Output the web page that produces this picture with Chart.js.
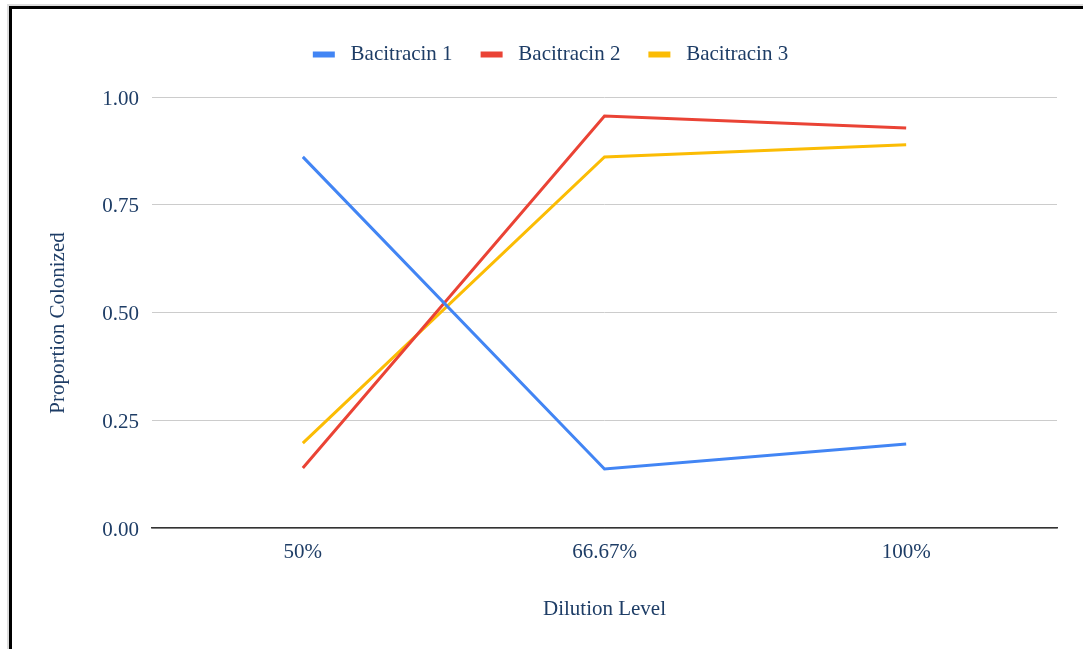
<!DOCTYPE html>
<html lang="en">
  <head>
    <meta charset="UTF-8" />
    <title>Proportion Colonized</title>
    <script src="https://cdn.jsdelivr.net/npm/chart.js@4"></script>
    <style>
      body { margin: 0; background: #fff; }
      .wrap { position: absolute; left: 0; top: 0; width: 1083px; height: 649px; }
      .frame {
        position: absolute; left: 9px; top: 6px; right: -10px; bottom: -10px;
        border-left: 3px solid #000; border-top: 3px solid #000;
        pointer-events: none;
      }
      .frame-shadow {
        position: absolute; left: 7px; top: 4px; right: -10px; bottom: -10px;
        border-left: 2px solid #ddd; border-top: 2px solid #ddd;
      }
    </style>
  </head>
  <body>
    <div class="wrap">
      <canvas id="myChart" width="1083" height="649"></canvas>
      <div class="frame-shadow"></div>
      <div class="frame"></div>
    </div>
    <script>
      let categories = ["50%", "66.67%", "100%"];
      let bacitracin1 = [0.861, 0.137, 0.195];
      let bacitracin2 = [0.139, 0.956, 0.928];
      let bacitracin3 = [0.197, 0.861, 0.889];
      let yTicks = [0, 0.25, 0.5, 0.75, 1];

      let textColor = "#1e3d66";
      let serif = "'Liberation Serif', 'DejaVu Serif', serif";

      let data = {
        labels: categories,
        datasets: [
          { label: "Bacitracin 1", data: bacitracin1, borderColor: "#4285f4", backgroundColor: "#4285f4" },
          { label: "Bacitracin 2", data: bacitracin2, borderColor: "#ea4335", backgroundColor: "#ea4335" },
          { label: "Bacitracin 3", data: bacitracin3, borderColor: "#fbbc04", backgroundColor: "#fbbc04" },
        ],
      };

      let config = {
        type: "line",
        data: data,
        options: {
          responsive: false,
          animation: false,
          elements: {
            line: { borderWidth: 3, tension: 0 },
            point: { radius: 0 },
          },
          layout: { padding: { top: 16, right: 26, left: 44, bottom: 0 } },
          plugins: {
            tooltip: { enabled: false },
            legend: {
              position: "top",
              labels: {
                color: textColor,
                font: { family: serif, size: 21 },
                boxWidth: 22,
                boxHeight: 6,
                padding: 28,
                generateLabels: (chart) =>
                  Chart.defaults.plugins.legend.labels.generateLabels(chart).map((l) => {
                    l.text = " " + l.text;
                    l.lineWidth = 0;
                    return l;
                  }),
              },
            },
            // empty spacer between legend and plot
            subtitle: {
              display: true,
              text: "",
              weight: 500,
              font: { size: 10 },
              padding: { top: 0, bottom: 10 },
            },
          },
          scales: {
            x: {
              offset: true,
              grid: { display: false, drawTicks: false },
              border: { color: "#333", width: 1.5 },
              ticks: { color: textColor, font: { family: serif, size: 21 }, padding: 12 },
              title: {
                display: true,
                text: "Dilution Level",
                color: textColor,
                font: { family: serif, size: 21 },
                padding: { top: 0, bottom: 27 },
              },
              afterFit: (s) => { s.height = 121; },
            },
            y: {
              min: 0,
              max: 1,
              afterBuildTicks: (s) => { s.ticks = yTicks.map((v) => ({ value: v })); },
              grid: { color: "#cccccc", lineWidth: 1, drawTicks: false },
              border: { display: false },
              ticks: {
                color: textColor,
                font: { family: serif, size: 21 },
                padding: 13,
                labelOffset: 2,
                callback: (v) => v.toFixed(2),
              },
              title: {
                display: true,
                text: "Proportion Colonized    ",
                color: textColor,
                font: { family: serif, size: 21 },
                padding: { top: 2, bottom: 0 },
              },
              afterFit: (s) => { s.width = 108; },
            },
          },
        },
      };

      let myChart = new Chart(document.getElementById("myChart"), config);
    </script>
  </body>
</html>
